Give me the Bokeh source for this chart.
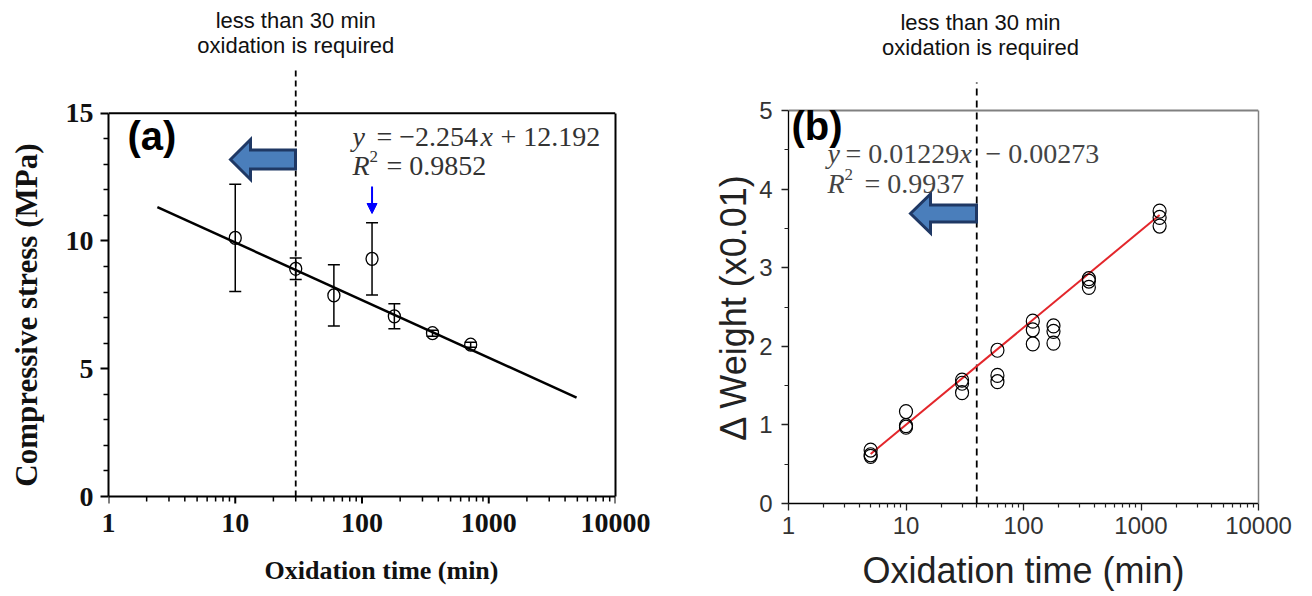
import numpy as np
from bokeh.plotting import figure
from bokeh.models import (Range1d, FixedTicker, PrintfTickFormatter, LinearAxis, Label,
                          Whisker, TeeHead, Arrow, NormalHead, ColumnDataSource)
from bokeh.layouts import row
from bokeh.embed import file_html
from bokeh.resources import INLINE

# ---------------- data ----------------
# (a) compressive stress vs oxidation time
time_a = [10, 30, 60, 120, 180, 360, 720]
stress_a = [10.12, 8.91, 7.87, 9.30, 7.05, 6.39, 5.94]
stress_err_a = [2.10, 0.42, 1.20, 1.41, 0.49, 0.12, 0.10]
fit_a_x = [2.43, 4930]
fit_a_slope = -2.254
fit_a_icpt = 12.192

# (b) weight gain vs oxidation time
time_b = [5, 5, 5, 10, 10, 10, 30, 30, 30, 60, 60, 60,
          120, 120, 120, 180, 180, 180, 360, 360, 360, 1440, 1440, 1440]
weight_b = [0.68, 0.62, 0.60, 1.17, 0.99, 0.97, 1.57, 1.53, 1.41, 1.95, 1.63, 1.55,
            2.32, 2.21, 2.03, 2.26, 2.19, 2.04, 2.86, 2.83, 2.75, 3.72, 3.64, 3.53]
fit_b_x = [5, 1440]
fit_b_y = [0.63, 3.67]

x_ticks = [1, 10, 100, 1000, 10000]
x_minor = [m * 10 ** k for k in range(4) for m in range(2, 10)]
y_ticks_a = [0, 5, 10, 15]
y_minor_a = [v for v in range(1, 15) if v % 5]
y_ticks_b = [0, 1, 2, 3, 4, 5]
y_minor_b = [0.5, 1.5, 2.5, 3.5, 4.5]
cut_a = 30
cut_b = 40
note_lines = ["less than 30 min", "oxidation is required"]
eq_a = [["y", "= \u22122.254", "x", "+ 12.192"], ["R", "2", "= 0.9852"]]
eq_b = [["y", "= 0.01229", "x", "\u2212 0.00273"], ["R", "2", "= 0.9937"]]


# pixel -> data helpers (page pixel layout of the reference)
def conv(x0, dec, y0, pu):
    return (lambda px: 10 ** ((px - x0) / dec)), (lambda py: (y0 - py) / pu)


LPU = 25.553
lx, ly = conv(108, 126.75, 496, LPU)
rx, ry = conv(788, 117.5, 503, 78.6)

SERIF = "Liberation Serif"
SANS = "Liberation Sans"
NB = "\u00a0"


def block_arrow(p, fx, fy, tip, head_x, head_half, shaft_half, tail_x):
    tx, ty = tip
    pts = [(tx, ty), (head_x, ty - head_half), (head_x, ty - shaft_half), (tail_x, ty - shaft_half),
           (tail_x, ty + shaft_half), (head_x, ty + shaft_half), (head_x, ty + head_half)]
    p.patch([fx(a) for a, b in pts], [fy(b) for a, b in pts], fill_color="#4a7ebb",
            line_color="#1f3864", line_width=3, line_join="miter")


def lab(p, fx, fy, px, py, text, size, font=SANS, style="normal", color="#111111",
        align="left", on_baseline=True):
    # py is the text baseline (page pixels) when on_baseline, else the text centre
    if on_baseline:
        py = py - 0.34 * size
    p.add_layout(Label(x=fx(px), y=fy(py), text=text, text_font=font,
                       text_font_size=f"{size}px", text_font_style=style,
                       text_color=color, text_align=align, text_baseline="middle"))


# ---------------- panel (a) ----------------
pa = figure(width=668, height=596, x_axis_type="log", x_range=Range1d(1, 10000),
            y_range=Range1d(ly(503), ly(10)), min_border_left=108, min_border_right=53,
            min_border_top=10, min_border_bottom=93, toolbar_location=None,
            output_backend="svg", outline_line_color=None)
pa.grid.grid_line_color = None

xa = pa.xaxis[0]
xa.ticker = FixedTicker(ticks=x_ticks, minor_ticks=x_minor)
xa.formatter = PrintfTickFormatter(format="%d")
ya = pa.yaxis[0]
ya.ticker = FixedTicker(ticks=y_ticks_a, minor_ticks=y_minor_a)
ya.bounds = (0, 15)
for ax in (xa, ya):
    ax.axis_line_width = 2
    ax.axis_line_color = "black"
    ax.major_tick_out = 8
    ax.major_tick_in = 0
    ax.minor_tick_out = 5
    ax.minor_tick_in = 0
    ax.major_tick_line_width = 2
    ax.minor_tick_line_width = 1.5
    ax.major_label_text_font = SERIF
    ax.major_label_text_font_style = "bold"
    ax.major_label_text_font_size = "28px"
    ax.major_label_text_color = "#111111"
    ax.axis_label_text_font = SERIF
    ax.axis_label_text_font_style = "bold"
    ax.axis_label_text_color = "#111111"
# x axis line and ticks are drawn at y = 0 below (the frame reaches a little lower)
xa.axis_line_color = None
xa.major_tick_line_color = None
xa.minor_tick_line_color = None
xa.major_tick_out = 0
xa.minor_tick_out = 0
xa.major_label_standoff = 10
ya.major_label_standoff = 7
xa.axis_label = NB * 6 + "Oxidation time (min)"
xa.axis_label_text_font_size = "26px"
xa.axis_label_standoff = 21
ya.axis_label = "Compressive stress (MPa)" + NB * 15
ya.axis_label_text_font_size = "31px"
ya.axis_label_standoff = 19

pa.line([x_ticks[0], x_ticks[-1]], [y_ticks_a[0], y_ticks_a[0]], line_color="black", line_width=2)
pa.segment(x0=x_ticks, y0=[0] * len(x_ticks), x1=x_ticks, y1=[-8 / LPU] * len(x_ticks),
           line_color="black", line_width=2)
pa.segment(x0=x_minor, y0=[0] * len(x_minor), x1=x_minor, y1=[-5 / LPU] * len(x_minor),
           line_color="black", line_width=1.5)

pa.add_layout(LinearAxis(bounds=(0, 15), ticker=FixedTicker(ticks=[]), major_tick_out=0,
                         minor_tick_out=0, major_tick_in=0, minor_tick_in=0,
                         major_label_text_font_size="0px", axis_line_width=2,
                         axis_line_color="black"), "right")
pa.line([x_ticks[0], x_ticks[-1]], [y_ticks_a[-1], y_ticks_a[-1]], line_color="black", line_width=2)

pa.line([cut_a, cut_a], [0, ly(70)], line_color="black", line_width=1.8, line_dash="6 4")
lab(pa, lambda v: cut_a, ly, 0, 20, note_lines[0], 22, align="center", on_baseline=False)
lab(pa, lambda v: cut_a, ly, 0, 45, note_lines[1], 22, align="center", on_baseline=False)

fit_a_y = [fit_a_icpt + fit_a_slope * np.log10(x) for x in fit_a_x]
pa.line(fit_a_x, fit_a_y, line_color="black", line_width=2.5)

src_a = ColumnDataSource(dict(t=time_a,
                              hi=[s + e for s, e in zip(stress_a, stress_err_a)],
                              lo=[s - e for s, e in zip(stress_a, stress_err_a)]))
pa.add_layout(Whisker(base="t", upper="hi", lower="lo", source=src_a, line_color="black",
                      line_width=1.5,
                      upper_head=TeeHead(size=12, line_width=1.5, line_color="black"),
                      lower_head=TeeHead(size=12, line_width=1.5, line_color="black")))
pa.ellipse(x=time_a, y=stress_a, width=12, height=13, width_units="screen",
           height_units="screen", fill_color=None, line_color="black", line_width=1.3)

pa.add_layout(Arrow(end=NormalHead(size=10, fill_color="#0000ff", line_color="#0000ff"),
                    x_start=time_a[3], y_start=ly(186), x_end=time_a[3], y_end=ly(213),
                    line_color="#0000ff", line_width=2))

block_arrow(pa, lx, ly, (230, 159), 250, 20, 9.5, 295)

lab(pa, lx, ly, 127, 149, "(a)", 40, style="bold", color="black")

EQC = "#333333"
lab(pa, lx, ly, 352, 146, eq_a[0][0], 28, font=SERIF, style="italic", color=EQC)
lab(pa, lx, ly, 376, 146, eq_a[0][1], 28, font=SERIF, color=EQC)
lab(pa, lx, ly, 480, 146, eq_a[0][2], 28, font=SERIF, style="italic", color=EQC)
lab(pa, lx, ly, 500, 146, eq_a[0][3], 28, font=SERIF, color=EQC)
lab(pa, lx, ly, 352, 175, eq_a[1][0], 28, font=SERIF, style="italic", color=EQC)
lab(pa, lx, ly, 369, 162, eq_a[1][1], 17, font=SERIF, color=EQC)
lab(pa, lx, ly, 386, 175, eq_a[1][2], 28, font=SERIF, color=EQC)

# ---------------- panel (b) ----------------
pb = figure(width=642, height=596, x_axis_type="log", x_range=Range1d(1, 10000),
            y_range=Range1d(0, ry(10)), min_border_left=120, min_border_right=52,
            min_border_top=10, min_border_bottom=93, toolbar_location=None,
            output_backend="svg", outline_line_color=None)
pb.grid.grid_line_color = None

xb = pb.xaxis[0]
xb.ticker = FixedTicker(ticks=x_ticks, minor_ticks=x_minor)
xb.formatter = PrintfTickFormatter(format="%d")
yb = pb.yaxis[0]
yb.ticker = FixedTicker(ticks=y_ticks_b, minor_ticks=y_minor_b)
yb.bounds = (0, 5)
for ax in (xb, yb):
    ax.axis_line_width = 1.3
    ax.axis_line_color = "black"
    ax.major_tick_out = 7
    ax.major_tick_in = 0
    ax.minor_tick_out = 4
    ax.minor_tick_in = 0
    ax.major_tick_line_width = 1.3
    ax.minor_tick_line_width = 1.2
    ax.major_tick_line_color = "#222222"
    ax.minor_tick_line_color = "#222222"
    ax.major_label_text_font = SANS
    ax.major_label_text_font_size = "24px"
    ax.major_label_text_color = "#333333"
    ax.axis_label_text_font = SANS
    ax.axis_label_text_font_style = "normal"
    ax.axis_label_text_color = "#222222"
xb.major_label_standoff = 6
yb.major_label_standoff = 9
xb.axis_label = "Oxidation time (min)"
xb.axis_label_text_font_size = "36px"
xb.axis_label_standoff = 13
yb.axis_label = "\u0394 Weight (x0.01)" + NB * 10
yb.axis_label_text_font_size = "36px"
yb.axis_label_standoff = 2

pb.add_layout(LinearAxis(bounds=(0, 5), ticker=FixedTicker(ticks=[]), major_tick_out=0,
                         minor_tick_out=0, major_tick_in=0, minor_tick_in=0,
                         major_label_text_font_size="0px", axis_line_width=1.5,
                         axis_line_color="#808080"), "right")
pb.line([x_ticks[0], x_ticks[-1]], [y_ticks_b[-1], y_ticks_b[-1]], line_color="#808080", line_width=2)

pb.line([cut_b, cut_b], [0, ry(82)], line_color="black", line_width=1.8, line_dash="7 5")
lab(pb, rx, ry, 980, 22, note_lines[0], 22, align="center", on_baseline=False)
lab(pb, rx, ry, 980, 47, note_lines[1], 22, align="center", on_baseline=False)

pb.line(fit_b_x, fit_b_y, line_color="#e3262b", line_width=2)
pb.ellipse(x=time_b, y=weight_b, width=13, height=14, width_units="screen",
           height_units="screen", fill_color=None, line_color="black", line_width=1.2)

block_arrow(pb, rx, ry, (910, 213), 930, 19.5, 8.5, 976)

lab(pb, rx, ry, 791, 139, "(b)", 40, style="bold", color="black")

EQB = "#444444"
lab(pb, rx, ry, 827, 163, eq_b[0][0], 28, font=SERIF, style="italic", color=EQB)
lab(pb, rx, ry, 845, 163, eq_b[0][1], 28, font=SERIF, color=EQB)
lab(pb, rx, ry, 959, 163, eq_b[0][2], 28, font=SERIF, style="italic", color=EQB)
lab(pb, rx, ry, 985, 163, eq_b[0][3], 28, font=SERIF, color=EQB)
lab(pb, rx, ry, 827, 193, eq_b[1][0], 28, font=SERIF, style="italic", color=EQB)
lab(pb, rx, ry, 844, 180, eq_b[1][1], 17, font=SERIF, color=EQB)
lab(pb, rx, ry, 864, 193, eq_b[1][2], 28, font=SERIF, color=EQB)

layout = row(pa, pb)
open("out.html", "w").write(file_html(layout, INLINE))
